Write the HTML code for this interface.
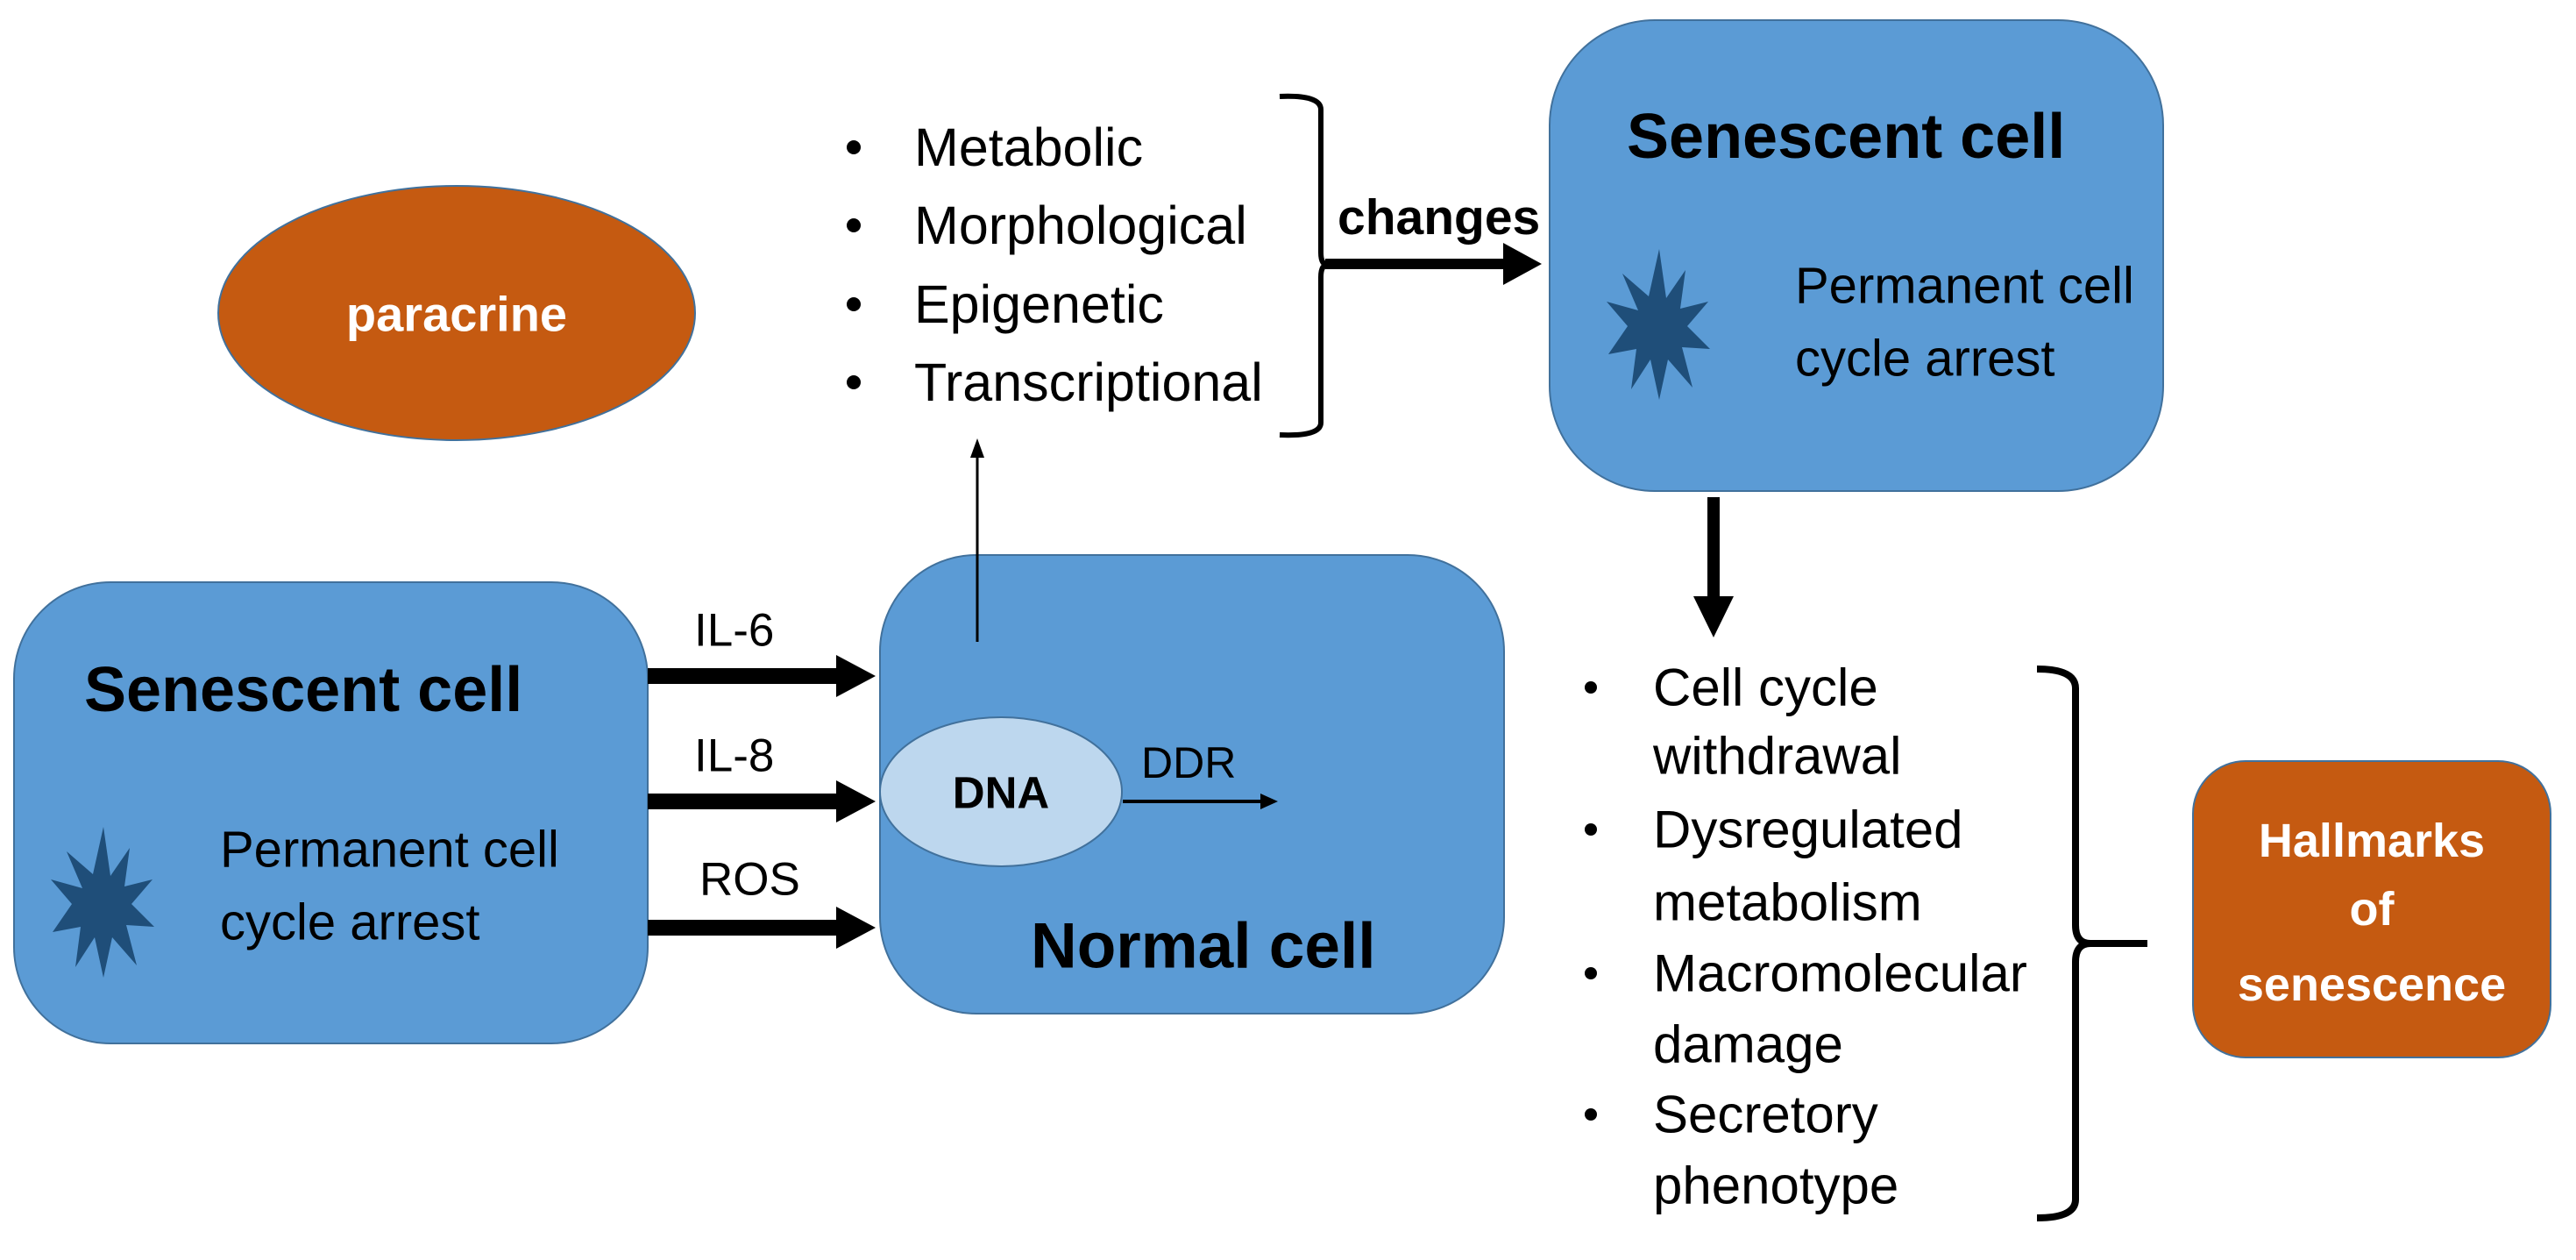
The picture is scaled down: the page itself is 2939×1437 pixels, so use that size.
<!DOCTYPE html>
<html><head><meta charset="utf-8"><style>
html,body{margin:0;padding:0;background:#fff;}
svg{display:block;}
text{font-family:"Liberation Sans",sans-serif;dominant-baseline:central;}
</style></head><body>
<svg width="2939" height="1437" viewBox="0 0 2939 1437" xmlns="http://www.w3.org/2000/svg">
<defs>
<polygon id="star" points="0,-86 8,-30 30,-62 24,-18 56,-26 32,2 58,28 26,26 38,72 10,40 0,86 -10,40 -32,74 -26,28 -58,34 -36,2 -60,-26 -24,-16 -42,-58 -12,-32"/>
</defs>
<!-- paracrine -->
<ellipse cx="521" cy="357" rx="272" ry="145" fill="#c55a11" stroke="#41719c" stroke-width="2"/>
<text x="521" y="358" font-size="56" font-weight="bold" fill="#fff" text-anchor="middle">paracrine</text>

<!-- top list -->
<g font-size="61" fill="#000">
<circle cx="974" cy="168" r="8"/><text x="1043" y="168">Metabolic</text>
<circle cx="974" cy="257" r="8"/><text x="1043" y="257">Morphological</text>
<circle cx="974" cy="347" r="8"/><text x="1043" y="347">Epigenetic</text>
<circle cx="974" cy="436" r="8"/><text x="1043" y="436">Transcriptional</text>
</g>
<path d="M1460,110 Q1507,108 1507,125 L1507,288 Q1507,302 1515,302 Q1507,302 1507,316 L1507,482 Q1507,498 1460,496" fill="none" stroke="#000" stroke-width="6"/>
<text x="1526" y="248" font-size="57" font-weight="bold">changes</text>
<polygon points="1512,295 1715,295 1715,277 1759,301 1715,325 1715,307 1512,307" fill="#000"/>

<!-- top right senescent -->
<rect x="1768" y="23" width="700" height="537" rx="120" fill="#5b9bd5" stroke="#41719c" stroke-width="2"/>
<text x="1856" y="156" font-size="72" font-weight="bold">Senescent cell</text>
<use href="#star" transform="translate(1893,370)" fill="#1f4e79"/>
<text x="2048" y="326" font-size="58">Permanent cell</text>
<text x="2048" y="409" font-size="58">cycle arrest</text>
<polygon points="1948,567 1962,567 1962,680 1978,680 1955,727 1932,680 1948,680" fill="#000"/>

<!-- left senescent -->
<rect x="16" y="664" width="723" height="526" rx="110" fill="#5b9bd5" stroke="#41719c" stroke-width="2"/>
<text x="96" y="787" font-size="72" font-weight="bold">Senescent cell</text>
<use href="#star" transform="translate(118,1029)" fill="#1f4e79"/>
<text x="251" y="969" font-size="58">Permanent cell</text>
<text x="251" y="1052" font-size="58">cycle arrest</text>

<!-- arrows -->
<g fill="#000">
<polygon points="739,762 954,762 954,747 999,771 954,795 954,780 739,780"/>
<polygon points="739,905 954,905 954,890 999,914 954,938 954,923 739,923"/>
<polygon points="739,1049 954,1049 954,1034 999,1058 954,1082 954,1067 739,1067"/>
</g>
<g font-size="53">
<text x="792" y="719">IL-6</text>
<text x="792" y="862">IL-8</text>
<text x="798" y="1003">ROS</text>
</g>

<!-- normal cell -->
<rect x="1004" y="633" width="712" height="523" rx="110" fill="#5b9bd5" stroke="#41719c" stroke-width="2"/>
<line x1="1115" y1="732" x2="1115" y2="520" stroke="#000" stroke-width="3"/>
<polygon points="1115,500 1107,522 1123,522" fill="#000"/>
<ellipse cx="1142" cy="903" rx="138" ry="85" fill="#bdd7ee" stroke="#41719c" stroke-width="2"/>
<text x="1142" y="904" font-size="51" font-weight="bold" text-anchor="middle">DNA</text>
<text x="1302" y="870" font-size="50">DDR</text>
<line x1="1281" y1="914" x2="1440" y2="914" stroke="#000" stroke-width="4"/>
<polygon points="1458,914 1438,905 1438,923" fill="#000"/>
<text x="1176" y="1079" font-size="73" font-weight="bold">Normal cell</text>

<!-- bottom list -->
<g font-size="60">
<circle cx="1815" cy="784" r="7"/><text x="1886" y="784">Cell cycle</text>
<text x="1886" y="862">withdrawal</text>
<circle cx="1815" cy="946" r="7"/><text x="1886" y="946">Dysregulated</text>
<text x="1886" y="1029">metabolism</text>
<circle cx="1815" cy="1110" r="7"/><text x="1886" y="1110">Macromolecular</text>
<text x="1886" y="1191">damage</text>
<circle cx="1815" cy="1271" r="7"/><text x="1886" y="1271">Secretory</text>
<text x="1886" y="1352">phenotype</text>
</g>
<path d="M2324,763 Q2368,763 2368,785 L2368,1055 Q2368,1076 2385,1076 L2450,1076 M2385,1076 Q2368,1076 2368,1097 L2368,1368 Q2368,1389 2324,1389" fill="none" stroke="#000" stroke-width="8"/>

<!-- hallmarks -->
<rect x="2502" y="868" width="408" height="338" rx="60" fill="#c55a11" stroke="#41719c" stroke-width="2"/>
<g font-size="54" font-weight="bold" fill="#fff" text-anchor="middle">
<text x="2706" y="959">Hallmarks</text>
<text x="2706" y="1037">of</text>
<text x="2706" y="1123">senescence</text>
</g>
</svg>
</body></html>
